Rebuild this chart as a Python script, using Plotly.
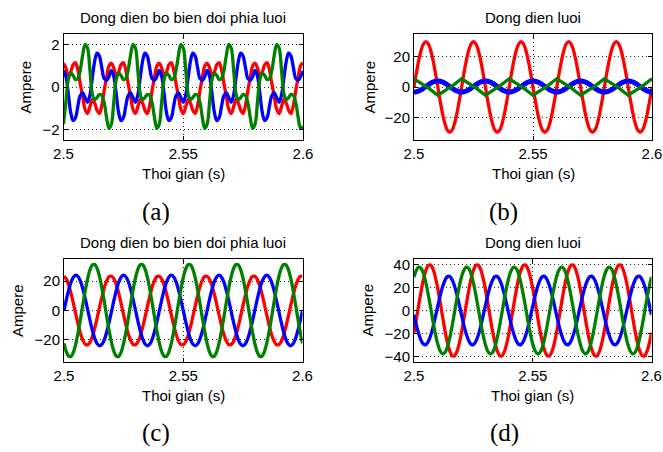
import plotly.graph_objects as go

W, H = 663, 452

# time grid (s), 1 ms samples from 2.50 to 2.60
t = [round(2.5 + k * 0.001, 3) for k in range(101)]
x_ticks = [2.5, 2.55, 2.6]
x_ticktext = ["2.5", "2.55", "2.6"]

# ---------------- (a) Dong dien bo bien doi phia luoi (A) ----------------
a_red = [
    1.12, 0.90, 0.55, 0.70, 1.05, 1.15, 0.80, 0.15, -0.45, -1.05, -1.25, -0.95, -0.60, -0.75, -1.10, -1.25, -0.85, -0.15, 0.45, 1.00,
    1.12, 0.90, 0.55, 0.70, 1.05, 1.15, 0.80, 0.15, -0.45, -1.05, -1.25, -0.95, -0.60, -0.75, -1.10, -1.25, -0.85, -0.15, 0.45, 1.00,
    1.12, 0.90, 0.55, 0.70, 1.05, 1.15, 0.80, 0.15, -0.45, -1.05, -1.25, -0.95, -0.60, -0.75, -1.10, -1.25, -0.85, -0.15, 0.45, 1.00,
    1.12, 0.90, 0.55, 0.70, 1.05, 1.15, 0.80, 0.15, -0.45, -1.05, -1.25, -0.95, -0.60, -0.75, -1.10, -1.25, -0.85, -0.15, 0.45, 1.00,
    1.12, 0.90, 0.55, 0.70, 1.05, 1.15, 0.80, 0.15, -0.45, -1.05, -1.25, -0.95, -0.60, -0.75, -1.10, -1.25, -0.85, -0.15, 0.45, 1.00,
    1.15,
]
a_blue = [
    0.78, 0.50, -0.30, -1.20, -1.58, -1.45, -0.90, -0.40, -0.28, -0.50, -0.72, -0.40, 0.40, 1.20, 1.60, 1.45, 0.90, 0.40, 0.32, 0.50,
    0.78, 0.50, -0.30, -1.20, -1.58, -1.45, -0.90, -0.40, -0.28, -0.50, -0.72, -0.40, 0.40, 1.20, 1.60, 1.45, 0.90, 0.40, 0.32, 0.50,
    0.78, 0.50, -0.30, -1.20, -1.58, -1.45, -0.90, -0.40, -0.28, -0.50, -0.72, -0.40, 0.40, 1.20, 1.60, 1.45, 0.90, 0.40, 0.32, 0.50,
    0.78, 0.50, -0.30, -1.20, -1.58, -1.45, -0.90, -0.40, -0.28, -0.50, -0.72, -0.40, 0.40, 1.20, 1.60, 1.45, 0.90, 0.40, 0.32, 0.50,
    0.78, 0.50, -0.30, -1.20, -1.58, -1.45, -0.90, -0.40, -0.28, -0.50, -0.72, -0.40, 0.40, 1.20, 1.60, 1.45, 0.90, 0.40, 0.32, 0.50,
    0.75,
]
a_green = [
    -1.75, -0.70, 0.35, 0.65, 0.55, 0.35, 0.40, 0.80, 1.50, 2.00, 1.85, 0.85, -0.30, -0.60, -0.50, -0.35, -0.40, -0.75, -1.45, -1.95,
    -1.75, -0.70, 0.35, 0.65, 0.55, 0.35, 0.40, 0.80, 1.50, 2.00, 1.85, 0.85, -0.30, -0.60, -0.50, -0.35, -0.40, -0.75, -1.45, -1.95,
    -1.75, -0.70, 0.35, 0.65, 0.55, 0.35, 0.40, 0.80, 1.50, 2.00, 1.85, 0.85, -0.30, -0.60, -0.50, -0.35, -0.40, -0.75, -1.45, -1.95,
    -1.75, -0.70, 0.35, 0.65, 0.55, 0.35, 0.40, 0.80, 1.50, 2.00, 1.85, 0.85, -0.30, -0.60, -0.50, -0.35, -0.40, -0.75, -1.45, -1.95,
    -1.75, -0.70, 0.35, 0.65, 0.55, 0.35, 0.40, 0.80, 1.50, 2.00, 1.85, 0.85, -0.30, -0.60, -0.50, -0.35, -0.40, -0.75, -1.45, -1.95,
    -1.85,
]

# ---------------- (b) Dong dien luoi (A) ----------------
b_red = [
    0.0, 9.3, 17.6, 24.3, 28.5, 30.0, 28.5, 24.3, 17.6, 9.3, 0.0, -9.3, -17.6, -24.3, -28.5, -30.0, -28.5, -24.3, -17.6, -9.3,
    0.0, 9.3, 17.6, 24.3, 28.5, 30.0, 28.5, 24.3, 17.6, 9.3, 0.0, -9.3, -17.6, -24.3, -28.5, -30.0, -28.5, -24.3, -17.6, -9.3,
    0.0, 9.3, 17.6, 24.3, 28.5, 30.0, 28.5, 24.3, 17.6, 9.3, 0.0, -9.3, -17.6, -24.3, -28.5, -30.0, -28.5, -24.3, -17.6, -9.3,
    0.0, 9.3, 17.6, 24.3, 28.5, 30.0, 28.5, 24.3, 17.6, 9.3, 0.0, -9.3, -17.6, -24.3, -28.5, -30.0, -28.5, -24.3, -17.6, -9.3,
    0.0, 9.3, 17.6, 24.3, 28.5, 30.0, 28.5, 24.3, 17.6, 9.3, 0.0, -9.3, -17.6, -24.3, -28.5, -30.0, -28.5, -24.3, -17.6, -9.3,
    0.0,
]
b_blue = [
    -3.3, -3.1, -2.6, -1.8, -0.8, 0.35, 1.5, 2.5, 3.3, 3.8, 4.0, 3.8, 3.3, 2.5, 1.5, 0.35, -0.8, -1.8, -2.6, -3.1,
    -3.3, -3.1, -2.6, -1.8, -0.8, 0.35, 1.5, 2.5, 3.3, 3.8, 4.0, 3.8, 3.3, 2.5, 1.5, 0.35, -0.8, -1.8, -2.6, -3.1,
    -3.3, -3.1, -2.6, -1.8, -0.8, 0.35, 1.5, 2.5, 3.3, 3.8, 4.0, 3.8, 3.3, 2.5, 1.5, 0.35, -0.8, -1.8, -2.6, -3.1,
    -3.3, -3.1, -2.6, -1.8, -0.8, 0.35, 1.5, 2.5, 3.3, 3.8, 4.0, 3.8, 3.3, 2.5, 1.5, 0.35, -0.8, -1.8, -2.6, -3.1,
    -3.3, -3.1, -2.6, -1.8, -0.8, 0.35, 1.5, 2.5, 3.3, 3.8, 4.0, 3.8, 3.3, 2.5, 1.5, 0.35, -0.8, -1.8, -2.6, -3.1,
    -3.3,
]
b_green = [
    5.4, 4.3, 3.2, 2.0, 1.0, 0.4, -0.6, -2.0, -3.2, -4.3, -5.4, -4.3, -3.2, -2.0, -1.0, -0.4, 0.6, 2.0, 3.2, 4.3,
    5.4, 4.3, 3.2, 2.0, 1.0, 0.4, -0.6, -2.0, -3.2, -4.3, -5.4, -4.3, -3.2, -2.0, -1.0, -0.4, 0.6, 2.0, 3.2, 4.3,
    5.4, 4.3, 3.2, 2.0, 1.0, 0.4, -0.6, -2.0, -3.2, -4.3, -5.4, -4.3, -3.2, -2.0, -1.0, -0.4, 0.6, 2.0, 3.2, 4.3,
    5.4, 4.3, 3.2, 2.0, 1.0, 0.4, -0.6, -2.0, -3.2, -4.3, -5.4, -4.3, -3.2, -2.0, -1.0, -0.4, 0.6, 2.0, 3.2, 4.3,
    5.4, 4.3, 3.2, 2.0, 1.0, 0.4, -0.6, -2.0, -3.2, -4.3, -5.4, -4.3, -3.2, -2.0, -1.0, -0.4, 0.6, 2.0, 3.2, 4.3,
    5.4,
]

# ---------------- (c) Dong dien bo bien doi phia luoi (A) ----------------
c_red = [
    23.3, 21.3, 17.1, 11.3, 4.4, -2.9, -10.0, -16.1, -20.6, -23.1, -23.3, -21.3, -17.1, -11.3, -4.4, 2.9, 10.0, 16.1, 20.6, 23.1,
    23.3, 21.3, 17.1, 11.3, 4.4, -2.9, -10.0, -16.1, -20.6, -23.1, -23.3, -21.3, -17.1, -11.3, -4.4, 2.9, 10.0, 16.1, 20.6, 23.1,
    23.3, 21.3, 17.1, 11.3, 4.4, -2.9, -10.0, -16.1, -20.6, -23.1, -23.3, -21.3, -17.1, -11.3, -4.4, 2.9, 10.0, 16.1, 20.6, 23.1,
    23.3, 21.3, 17.1, 11.3, 4.4, -2.9, -10.0, -16.1, -20.6, -23.1, -23.3, -21.3, -17.1, -11.3, -4.4, 2.9, 10.0, 16.1, 20.6, 23.1,
    23.3, 21.3, 17.1, 11.3, 4.4, -2.9, -10.0, -16.1, -20.6, -23.1, -23.3, -21.3, -17.1, -11.3, -4.4, 2.9, 10.0, 16.1, 20.6, 23.1,
    23.3,
]
c_blue = [
    0.0, 7.4, 14.1, 19.4, 22.8, 24.0, 22.8, 19.4, 14.1, 7.4, 0.0, -7.4, -14.1, -19.4, -22.8, -24.0, -22.8, -19.4, -14.1, -7.4,
    0.0, 7.4, 14.1, 19.4, 22.8, 24.0, 22.8, 19.4, 14.1, 7.4, 0.0, -7.4, -14.1, -19.4, -22.8, -24.0, -22.8, -19.4, -14.1, -7.4,
    0.0, 7.4, 14.1, 19.4, 22.8, 24.0, 22.8, 19.4, 14.1, 7.4, 0.0, -7.4, -14.1, -19.4, -22.8, -24.0, -22.8, -19.4, -14.1, -7.4,
    0.0, 7.4, 14.1, 19.4, 22.8, 24.0, 22.8, 19.4, 14.1, 7.4, 0.0, -7.4, -14.1, -19.4, -22.8, -24.0, -22.8, -19.4, -14.1, -7.4,
    0.0, 7.4, 14.1, 19.4, 22.8, 24.0, 22.8, 19.4, 14.1, 7.4, 0.0, -7.4, -14.1, -19.4, -22.8, -24.0, -22.8, -19.4, -14.1, -7.4,
    0.0,
]
c_green = [
    -22.3, -28.1, -31.1, -31.1, -28.1, -22.3, -14.3, -4.9, 4.9, 14.3, 22.3, 28.1, 31.1, 31.1, 28.1, 22.3, 14.3, 4.9, -4.9, -14.3,
    -22.3, -28.1, -31.1, -31.1, -28.1, -22.3, -14.3, -4.9, 4.9, 14.3, 22.3, 28.1, 31.1, 31.1, 28.1, 22.3, 14.3, 4.9, -4.9, -14.3,
    -22.3, -28.1, -31.1, -31.1, -28.1, -22.3, -14.3, -4.9, 4.9, 14.3, 22.3, 28.1, 31.1, 31.1, 28.1, 22.3, 14.3, 4.9, -4.9, -14.3,
    -22.3, -28.1, -31.1, -31.1, -28.1, -22.3, -14.3, -4.9, 4.9, 14.3, 22.3, 28.1, 31.1, 31.1, 28.1, 22.3, 14.3, 4.9, -4.9, -14.3,
    -22.3, -28.1, -31.1, -31.1, -28.1, -22.3, -14.3, -4.9, 4.9, 14.3, 22.3, 28.1, 31.1, 31.1, 28.1, 22.3, 14.3, 4.9, -4.9, -14.3,
    -22.3,
]

# ---------------- (d) Dong dien luoi (A) ----------------
d_red = [
    -19.3, -7.5, 5.0, 17.0, 27.4, 35.0, 39.3, 39.7, 36.2, 29.2, 19.3, 7.5, -5.0, -17.0, -27.4, -35.0, -39.3, -39.7, -36.2, -29.2,
    -19.3, -7.5, 5.0, 17.0, 27.4, 35.0, 39.3, 39.7, 36.2, 29.2, 19.3, 7.5, -5.0, -17.0, -27.4, -35.0, -39.3, -39.7, -36.2, -29.2,
    -19.3, -7.5, 5.0, 17.0, 27.4, 35.0, 39.3, 39.7, 36.2, 29.2, 19.3, 7.5, -5.0, -17.0, -27.4, -35.0, -39.3, -39.7, -36.2, -29.2,
    -19.3, -7.5, 5.0, 17.0, 27.4, 35.0, 39.3, 39.7, 36.2, 29.2, 19.3, 7.5, -5.0, -17.0, -27.4, -35.0, -39.3, -39.7, -36.2, -29.2,
    -19.3, -7.5, 5.0, 17.0, 27.4, 35.0, 39.3, 39.7, 36.2, 29.2, 19.3, 7.5, -5.0, -17.0, -27.4, -35.0, -39.3, -39.7, -36.2, -29.2,
    -19.3,
]
d_blue = [
    -3.8, -12.8, -20.5, -26.3, -29.5, -29.8, -27.1, -21.9, -14.5, -5.6, 3.8, 12.8, 20.5, 26.3, 29.5, 29.8, 27.1, 21.9, 14.5, 5.6,
    -3.8, -12.8, -20.5, -26.3, -29.5, -29.8, -27.1, -21.9, -14.5, -5.6, 3.8, 12.8, 20.5, 26.3, 29.5, 29.8, 27.1, 21.9, 14.5, 5.6,
    -3.8, -12.8, -20.5, -26.3, -29.5, -29.8, -27.1, -21.9, -14.5, -5.6, 3.8, 12.8, 20.5, 26.3, 29.5, 29.8, 27.1, 21.9, 14.5, 5.6,
    -3.8, -12.8, -20.5, -26.3, -29.5, -29.8, -27.1, -21.9, -14.5, -5.6, 3.8, 12.8, 20.5, 26.3, 29.5, 29.8, 27.1, 21.9, 14.5, 5.6,
    -3.8, -12.8, -20.5, -26.3, -29.5, -29.8, -27.1, -21.9, -14.5, -5.6, 3.8, 12.8, 20.5, 26.3, 29.5, 29.8, 27.1, 21.9, 14.5, 5.6,
    -3.8,
]
d_green = [
    29.3, 35.3, 37.9, 36.8, 32.1, 24.2, 14.0, 2.4, -9.5, -20.4, -29.3, -35.3, -37.9, -36.8, -32.1, -24.2, -14.0, -2.4, 9.5, 20.4,
    29.3, 35.3, 37.9, 36.8, 32.1, 24.2, 14.0, 2.4, -9.5, -20.4, -29.3, -35.3, -37.9, -36.8, -32.1, -24.2, -14.0, -2.4, 9.5, 20.4,
    29.3, 35.3, 37.9, 36.8, 32.1, 24.2, 14.0, 2.4, -9.5, -20.4, -29.3, -35.3, -37.9, -36.8, -32.1, -24.2, -14.0, -2.4, 9.5, 20.4,
    29.3, 35.3, 37.9, 36.8, 32.1, 24.2, 14.0, 2.4, -9.5, -20.4, -29.3, -35.3, -37.9, -36.8, -32.1, -24.2, -14.0, -2.4, 9.5, 20.4,
    29.3, 35.3, 37.9, 36.8, 32.1, 24.2, 14.0, 2.4, -9.5, -20.4, -29.3, -35.3, -37.9, -36.8, -32.1, -24.2, -14.0, -2.4, 9.5, 20.4,
    29.3,
]

titles = ["Dong dien bo bien doi phia luoi", "Dong dien luoi",
          "Dong dien bo bien doi phia luoi", "Dong dien luoi"]
sub_labels = ["(a)", "(b)", "(c)", "(d)"]
x_label = "Thoi gian (s)"
y_label = "Ampere"
y_ranges = [[-2.5, 2.5], [-35, 35], [-35, 35], [-45, 45]]
y_tickvals = [[-2, 0, 2], [-20, 0, 20], [-20, 0, 20], [-40, -20, 0, 20, 40]]

RED, BLUE, GREEN = "#ff0000", "#0000ff", "#008000"
FONT = "Liberation Sans, Arial, Helvetica, sans-serif"

# panel boxes in pixels: (left, right, top, bottom)
boxes = [(63.5, 303, 34, 140), (414, 652, 34, 140),
         (64, 302.5, 259, 362), (414, 651.5, 259, 362)]

def px(x):
    return x / W

def py(y):
    return 1 - y / H

series = [
    (a_red, a_blue, a_green),
    (b_red, b_blue, b_green),
    (c_red, c_blue, c_green),
    (d_red, d_blue, d_green),
]

fig = go.Figure()
layout = {}
annotations = []
for i, (box, (r, b, g)) in enumerate(zip(boxes, series)):
    n = "" if i == 0 else str(i + 1)
    xa, ya = "x" + n, "y" + n
    blue_w = 5 if i == 1 else 3.3
    green_shape = "linear" if i == 1 else "spline"
    fig.add_trace(go.Scatter(x=t, y=r, xaxis=xa, yaxis=ya, mode="lines",
                             line=dict(color=RED, width=3.3, shape="spline"),
                             showlegend=False, hoverinfo="skip"))
    fig.add_trace(go.Scatter(x=t, y=b, xaxis=xa, yaxis=ya, mode="lines",
                             line=dict(color=BLUE, width=blue_w, shape="spline"),
                             showlegend=False, hoverinfo="skip"))
    fig.add_trace(go.Scatter(x=t, y=g, xaxis=xa, yaxis=ya, mode="lines",
                             line=dict(color=GREEN, width=3.3, shape=green_shape),
                             showlegend=False, hoverinfo="skip"))
    L, R, T, B = box
    common = dict(showline=True, linecolor="black", linewidth=1, mirror="ticks",
                  ticks="inside", ticklen=4, tickcolor="black", automargin=False,
                  showgrid=True, gridcolor="rgba(0,0,0,0.85)", griddash="1px,3px",
                  gridwidth=1, zeroline=False,
                  tickfont=dict(family=FONT, size=15, color="black"))
    layout["xaxis" + n] = dict(common, domain=[px(L), px(R)], anchor=ya,
                               range=[2.5, 2.6], tickvals=x_ticks,
                               ticktext=x_ticktext)
    layout["yaxis" + n] = dict(common, domain=[py(B), py(T)], anchor=xa,
                               range=y_ranges[i], tickvals=y_tickvals[i])
    cx = (L + R) / 2
    annotations.append(dict(text=titles[i], x=px(cx), y=py(T - 17), xref="paper",
                            yref="paper", showarrow=False, xanchor="center",
                            yanchor="middle",
                            font=dict(family=FONT, size=15, color="black")))
    annotations.append(dict(text=x_label, x=px(cx), y=py(B + 33), xref="paper",
                            yref="paper", showarrow=False, xanchor="center",
                            yanchor="middle",
                            font=dict(family=FONT, size=15, color="black")))
    ylab_x = [24.5, 368.5, 17.5, 367][i]
    annotations.append(dict(text=y_label, x=px(ylab_x), y=py((T + B) / 2),
                            xref="paper", yref="paper", showarrow=False,
                            textangle=-90, xanchor="center", yanchor="middle",
                            font=dict(family=FONT, size=15, color="black")))
    sub_x = [156, 503, 156, 504][i]
    sub_y = [212, 212, 433, 433][i]
    annotations.append(dict(text=sub_labels[i], x=px(sub_x), y=py(sub_y),
                            xref="paper", yref="paper", showarrow=False,
                            xanchor="center", yanchor="middle",
                            font=dict(family="Liberation Serif, DejaVu Serif, serif",
                                      size=25, color="black")))

fig.update_layout(width=W, height=H, margin=dict(l=0, r=0, t=0, b=0),
                  paper_bgcolor="white", plot_bgcolor="white",
                  annotations=annotations, **layout)

# the page's default body margin would shift the figure; remove it
fig.write_html("out.html", config={"displayModeBar": False},
               post_script="document.body.style.margin='0px';"
                           "document.body.style.padding='0px';")
